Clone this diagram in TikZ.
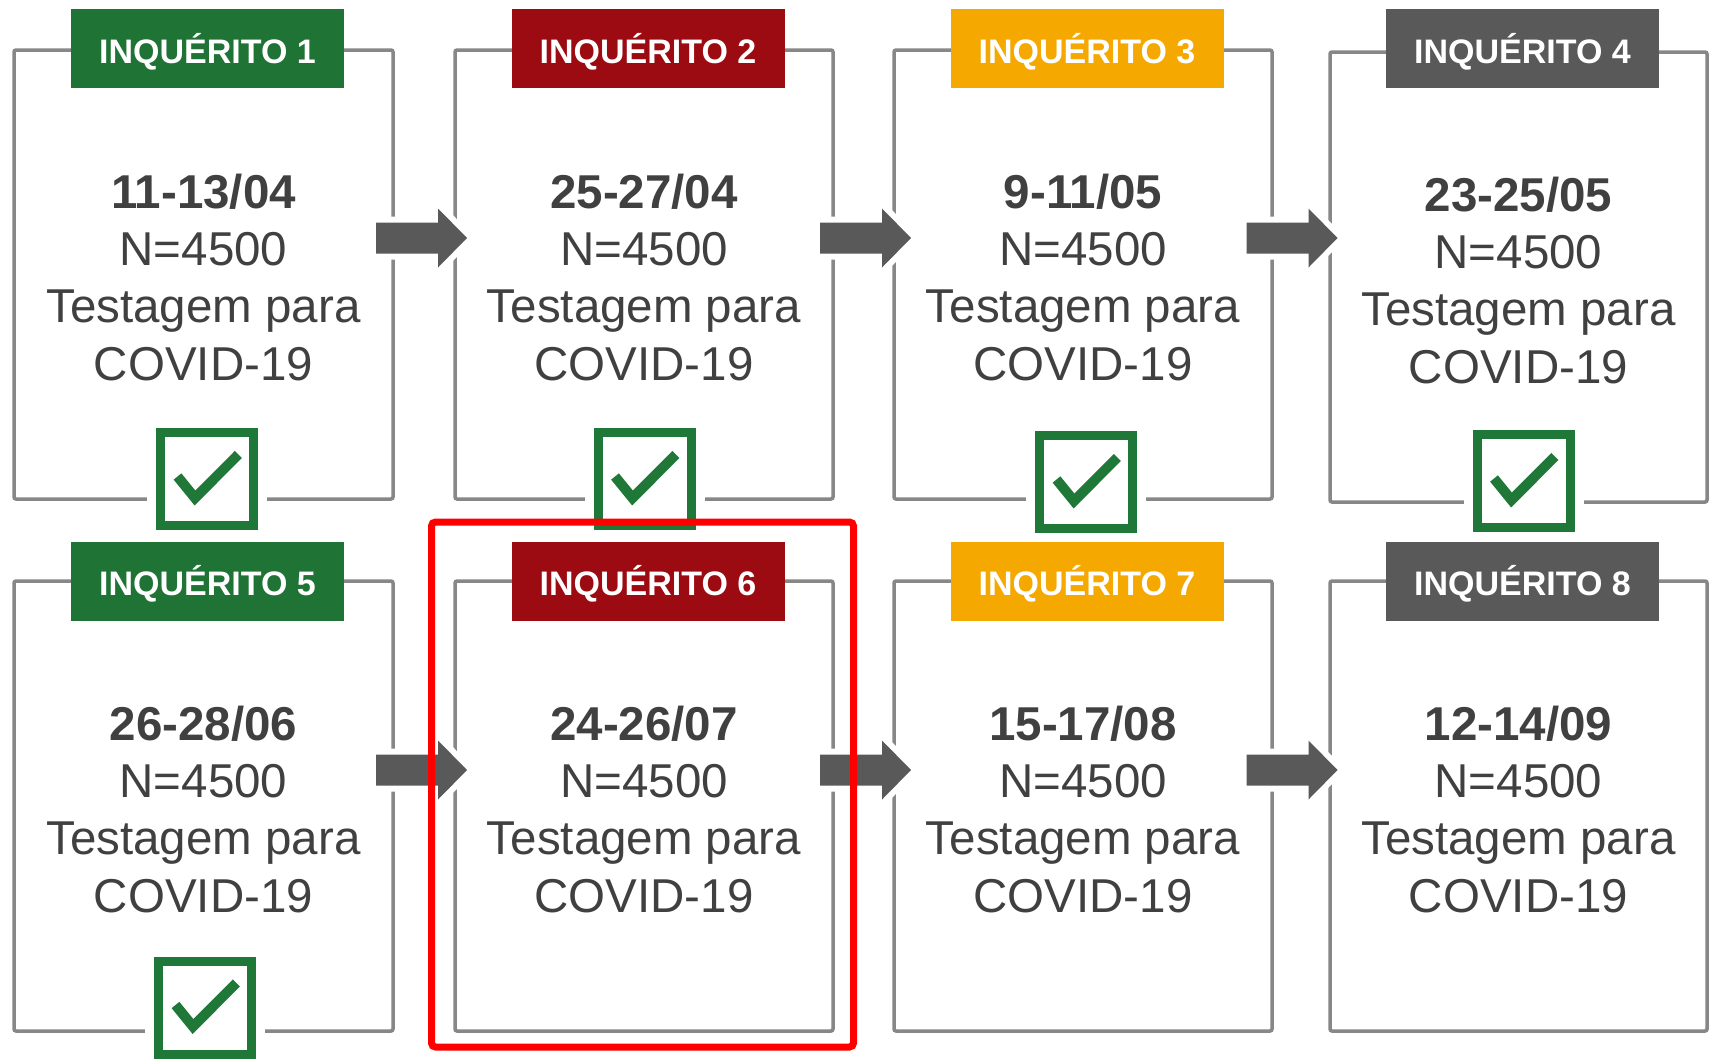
\documentclass[tikz,border=0pt]{standalone}
\usepackage{fontspec}
\setmainfont{Liberation Sans}
\usetikzlibrary{calc}
\definecolor{framegray}{RGB}{135,135,135}
\definecolor{textgray}{RGB}{64,64,64}
\definecolor{igreen}{RGB}{31,115,53}
\definecolor{ired}{RGB}{155,11,17}
\definecolor{iorange}{RGB}{245,168,0}
\definecolor{igray}{RGB}{89,89,89}
\definecolor{arrowgray}{RGB}{89,89,89}
\definecolor{cgreen}{RGB}{31,120,55}

\newcommand\card[9]{%
  \node[frame, minimum width=#4pt, minimum height=#5pt] (f#1) at (#2,#3) {};
  \node[dt] (d#1) at (#2,#8) {#7};
  \node[txt] (n#1) at (#2,{#8+57}) {N=4500};
  \node[txt] (t#1) at (#2,{#8+114.5}) {Testagem para};
  \node[txt] (v#1) at (#2,{#8+172}) {COVID-19};
  \node[lbl=#6] (l#1) at ({#2+4},#9) {INQUÉRITO #1};
}
\newcommand\barrow[3]{%
  \path[barrowst] ($(#1.east |- #2)+(#3,-15.5)$) -- ++(62,0) -- ++(0,-14)
    -- ++(29,29.5) -- ++(-29,29.5) -- ++(0,-14) -- ++(-62,0) -- cycle;
}
\newcommand\chk[3]{%
  \node[chkbox] (#1) at (#2,#3) {};
  \draw[chkmark] ($(#1.center)+(-29.5,-2.5)$) -- ($(#1.center)+(-12,19)$)
    -- ($(#1.center)+(31.3,-24.5)$);
}

\begin{document}
\begin{tikzpicture}[x=1pt,y=-1pt,
  frame/.style={draw=framegray, line width=3.5pt, rounded corners=2pt, inner sep=0pt, outer sep=0pt},
  lbl/.style={fill=#1, text=white, font=\fontsize{34}{40}\selectfont\bfseries,
    minimum width=273pt, minimum height=79pt, inner sep=0pt, text height=29pt, text depth=0pt},
  txt/.style={text=textgray, font=\fontsize{47.5}{57}\selectfont, inner sep=0pt, anchor=base},
  dt/.style={txt, font=\fontsize{47.5}{57}\selectfont\bfseries},
  barrowst/.style={fill=arrowgray, preaction={draw=white, line width=12pt, line join=miter}},
  chkbox/.style={draw=cgreen, fill=white, line width=9pt, minimum size=93pt, inner sep=0pt, outer sep=0pt,
    preaction={draw=white, line width=27pt}},
  chkmark/.style={draw=cgreen, line width=10pt, line join=miter, line cap=butt},
  redbox/.style={draw=red, line width=7pt, rounded corners=4pt}
]
\useasboundingbox (0,0) rectangle (1710,1061);
\fill[white] (0,0) rectangle (1710,1061);

\card{1}{203.5}{274.5}{379}{449}{igreen}{11-13/04}{208}{48.5}
\card{2}{644}{274.5}{378}{449}{ired}{25-27/04}{208}{48.5}
\card{3}{1083}{274.5}{378}{449}{iorange}{9-11/05}{208}{48.5}
\card{4}{1518.5}{277}{377}{450}{igray}{23-25/05}{211}{48.5}
\card{5}{203.5}{806}{379}{450}{igreen}{26-28/06}{740}{581}
\card{6}{644}{806}{378}{450}{ired}{24-26/07}{740}{581}
\card{7}{1083}{806}{378}{450}{iorange}{15-17/08}{740}{581}
\card{8}{1518.5}{806}{377}{450}{igray}{12-14/09}{740}{581}

\coordinate (r1) at (0,238);
\coordinate (r2) at (0,770);
\barrow{f1}{r1}{-17}
\barrow{f2}{r1}{-13}
\barrow{f3}{r1}{-25.5}
\barrow{f5}{r2}{-17}
\barrow{f6}{r2}{-13}
\barrow{f7}{r2}{-25.5}

\chk{c1}{207}{479}
\chk{c2}{644.5}{479}
\chk{c3}{1086}{482}
\chk{c4}{1523.5}{481}
\chk{c5}{205}{1007.5}

\draw[redbox] (431.5,522) rectangle (853.5,1047);
\end{tikzpicture}
\end{document}
